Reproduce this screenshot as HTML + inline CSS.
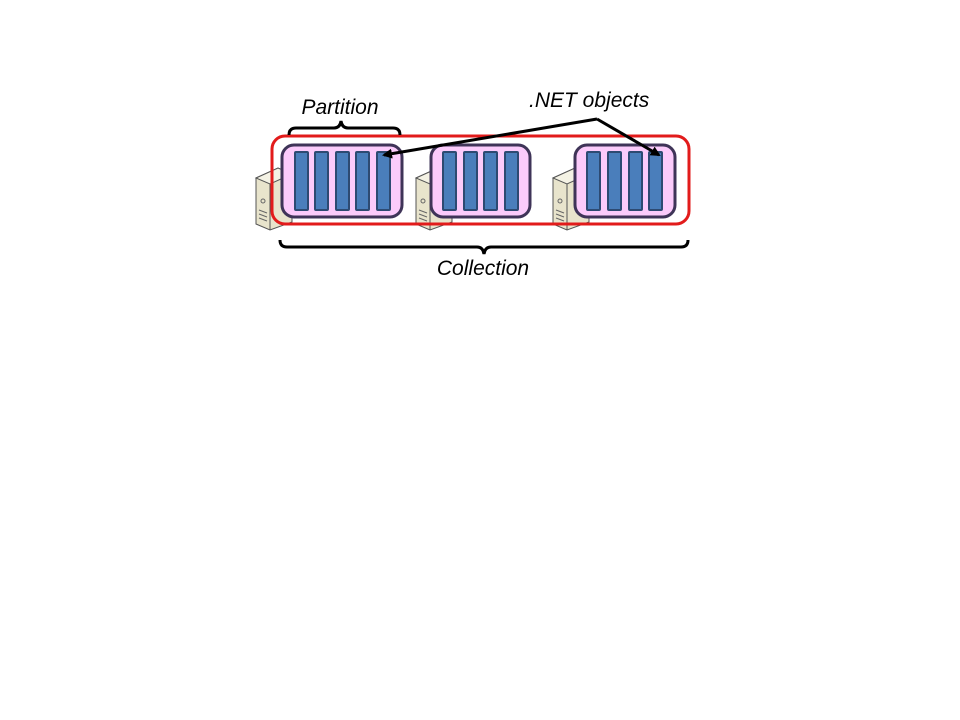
<!DOCTYPE html>
<html><head><meta charset="utf-8"><style>
html,body{margin:0;padding:0;background:#fff;width:960px;height:720px;overflow:hidden}
text{font-family:"Liberation Sans",sans-serif;font-style:italic;font-size:21px;fill:#000}
</style></head><body>
<svg width="960" height="720" viewBox="0 0 960 720" xmlns="http://www.w3.org/2000/svg">
<defs>
<g id="srv">
<polygon points="0,10 22,0 36,6 36,54 14,62 0,56" fill="#e8e4cc" stroke="#555" stroke-width="1"/>
<polygon points="0,10 22,0 36,6 14,16" fill="#f4f2e4" stroke="#555" stroke-width="1"/>
<line x1="14" y1="16" x2="14" y2="62" stroke="#555"/>
<circle cx="7" cy="33" r="2" fill="none" stroke="#666"/>
<line x1="3" y1="42" x2="11" y2="45" stroke="#666"/>
<line x1="3" y1="46" x2="11" y2="49" stroke="#666"/>
<line x1="3" y1="50" x2="11" y2="53" stroke="#666"/>
</g>
<marker id="ah" markerWidth="10" markerHeight="10" refX="8" refY="5" orient="auto" markerUnits="userSpaceOnUse"><path d="M0,0 L10,5 L0,10 z" fill="#000"/></marker>
</defs>
<use href="#srv" x="256" y="168"/>
<use href="#srv" x="416" y="168"/>
<use href="#srv" x="553" y="168"/>
<rect x="272" y="136" width="417" height="88" rx="13" fill="none" stroke="#e21b1b" stroke-width="3"/>
<g stroke="#3f3458" stroke-width="3" fill="#fbcbfb">
<rect x="282" y="145" width="120" height="72" rx="12"/>
<rect x="431" y="145" width="99" height="72" rx="12"/>
<rect x="575" y="145" width="100" height="72" rx="12"/>
</g>
<g fill="#4a7ebb" stroke="#2d4a72" stroke-width="2">
<rect x="295" y="152" width="13" height="58" rx="1"/>
<rect x="315" y="152" width="13" height="58" rx="1"/>
<rect x="336" y="152" width="13" height="58" rx="1"/>
<rect x="356" y="152" width="13" height="58" rx="1"/>
<rect x="377" y="152" width="13" height="58" rx="1"/>
<rect x="443" y="152" width="13" height="58" rx="1"/>
<rect x="464" y="152" width="13" height="58" rx="1"/>
<rect x="484" y="152" width="13" height="58" rx="1"/>
<rect x="505" y="152" width="13" height="58" rx="1"/>
<rect x="587" y="152" width="13" height="58" rx="1"/>
<rect x="608" y="152" width="13" height="58" rx="1"/>
<rect x="629" y="152" width="13" height="58" rx="1"/>
<rect x="649" y="152" width="13" height="58" rx="1"/>
</g>
<g stroke="#000" stroke-width="3" fill="none">
<line x1="597" y1="119" x2="384" y2="155" marker-end="url(#ah)"/>
<line x1="597" y1="119" x2="659" y2="155" marker-end="url(#ah)"/>
<path d="M289,135 Q289,128 296,128 L334,128 Q340,128 341,121 Q342,128 348,128 L393,128 Q400,128 400,135"/>
<path d="M280,240 Q280,247 287,247 L477,247 Q483,247 484,254 Q485,247 491,247 L681,247 Q688,247 688,240"/>
</g>
<text x="340" y="114" text-anchor="middle">Partition</text>
<text x="529" y="107">.NET objects</text>
<text x="483" y="275" text-anchor="middle">Collection</text>
</svg>
</body></html>
